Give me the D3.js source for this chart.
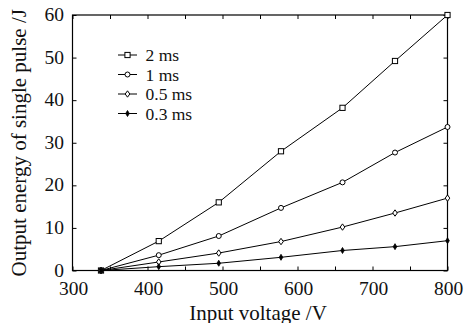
<!DOCTYPE html>
<html><head><meta charset="utf-8">
<script src="https://cdn.jsdelivr.net/npm/d3@7"></script>
<style>
html,body{margin:0;padding:0;background:#fff;}
</style></head>
<body><svg id="c" width="464" height="323"></svg>
<script>
const voltages = [338, 415, 495, 578, 660, 730, 800];
const seriesNames = ["2 ms", "1 ms", "0.5 ms", "0.3 ms"];
const energy2ms  = [0, 6.9, 16.0, 28.0, 38.2, 49.2, 60.0];
const energy1ms  = [0, 3.6, 8.1, 14.7, 20.7, 27.7, 33.7];
const energy05ms = [0, 2.0, 4.1, 6.8, 10.2, 13.5, 17.0];
const energy03ms = [0, 0.9, 1.7, 3.1, 4.7, 5.6, 7.0];
const xTickLabels = [300, 400, 500, 600, 700, 800];
const yTickLabels = [0, 10, 20, 30, 40, 50, 60];
const xMinorTicks = [300,350,400,450,500,550,600,650,700,750,800];
const markers = ["square", "circle", "diamond", "star"];

const series = [energy2ms, energy1ms, energy05ms, energy03ms].map((v,i)=>({
  name: seriesNames[i], marker: markers[i],
  pts: voltages.map((x,j)=>({x, y:v[j]}))
}));

const FONT = "Liberation Serif";
const svg = d3.select("#c");
const L = 72.5, R = 447.5, T = 15, B = 270.5;
const x = d3.scaleLinear().domain([300,800]).range([L,R]);
const y = d3.scaleLinear().domain([0,60]).range([B,T]);
const fsTick = 19.5, fsTitle = 21, fsLeg = 17.5;

// frame
svg.append("rect").attr("x",L).attr("y",T).attr("width",R-L).attr("height",B-T)
  .attr("fill","none").attr("stroke","#000").attr("stroke-width",1.2);

// axes with inward ticks
const gB = svg.append("g").attr("transform",`translate(0,${B})`)
  .call(d3.axisBottom(x).tickValues(xMinorTicks).tickSize(-4).tickFormat(""));
const gT = svg.append("g").attr("transform",`translate(0,${T})`)
  .call(d3.axisTop(x).tickValues(xMinorTicks).tickSize(-4).tickFormat(""));
const gL = svg.append("g").attr("transform",`translate(${L},0)`)
  .call(d3.axisLeft(y).tickValues(yTickLabels).tickSize(-4).tickFormat(""));
const gR = svg.append("g").attr("transform",`translate(${R},0)`)
  .call(d3.axisRight(y).tickValues(yTickLabels).tickSize(-4).tickFormat(""));
[gB,gT,gL,gR].forEach(g=>{g.select(".domain").remove(); g.selectAll("line").attr("stroke","#000");});

// tick labels
svg.append("g").selectAll("text").data(xTickLabels).join("text")
  .attr("x",d=>x(d)+1).attr("y",B+24.5).attr("text-anchor","middle")
  .attr("font-family",FONT).attr("font-size",fsTick).attr("fill","#111").text(d=>d);
svg.append("g").selectAll("text").data(yTickLabels).join("text")
  .attr("x",L-8.5).attr("y",d=>y(d)+6).attr("text-anchor","end")
  .attr("font-family",FONT).attr("font-size",fsTick).attr("fill","#111").text(d=>d);

// axis titles
svg.append("text").attr("x",(L+R)/2-2).attr("y",319.5).attr("text-anchor","middle")
  .attr("font-family",FONT).attr("font-size",fsTitle).attr("fill","#111").text("Input voltage /V");
svg.append("text").attr("transform",`translate(26,${(T+B)/2}) rotate(-90)`)
  .attr("text-anchor","middle").attr("font-family",FONT).attr("font-size",fsTitle).attr("fill","#111")
  .text("Output energy of single pulse /J");

// marker drawer
function drawMarker(g, type, cx, cy){
  if(type==="square") g.append("rect").attr("x",cx-2.6).attr("y",cy-2.6).attr("width",5.2).attr("height",5.2)
      .attr("fill","#fff").attr("stroke","#000").attr("stroke-width",1);
  else if(type==="circle") g.append("circle").attr("cx",cx).attr("cy",cy).attr("r",2.5)
      .attr("fill","#fff").attr("stroke","#000").attr("stroke-width",1);
  else if(type==="diamond") g.append("path").attr("d",`M${cx},${cy-3.2}L${cx+2.3},${cy}L${cx},${cy+3.2}L${cx-2.3},${cy}Z`)
      .attr("fill","#fff").attr("stroke","#000").attr("stroke-width",1);
  else g.append("path").attr("d",`M${cx},${cy-3}L${cx+1.8},${cy}L${cx},${cy+3}L${cx-1.8},${cy}Z`)
      .attr("fill","#000").attr("stroke","#000").attr("stroke-width",0.8);
}

const line = d3.line().x(d=>x(d.x)).y(d=>y(d.y));
series.forEach(s=>{
  const g = svg.append("g");
  g.append("path").attr("d",line(s.pts)).attr("fill","none").attr("stroke","#000").attr("stroke-width",1);
  s.pts.forEach(p=>drawMarker(g, s.marker, x(p.x), y(p.y)));
});

// legend
const legY = [55, 74.5, 94, 113.5];
series.forEach((s,i)=>{
  const g = svg.append("g");
  g.append("line").attr("x1",118).attr("x2",137).attr("y1",legY[i]).attr("y2",legY[i])
    .attr("stroke","#000").attr("stroke-width",1);
  drawMarker(g, s.marker, 127.5, legY[i]);
  g.append("text").attr("x",145.5).attr("y",legY[i]+6).attr("font-family",FONT)
    .attr("font-size",fsLeg).attr("fill","#111").text(s.name);
});
</script></body></html>
